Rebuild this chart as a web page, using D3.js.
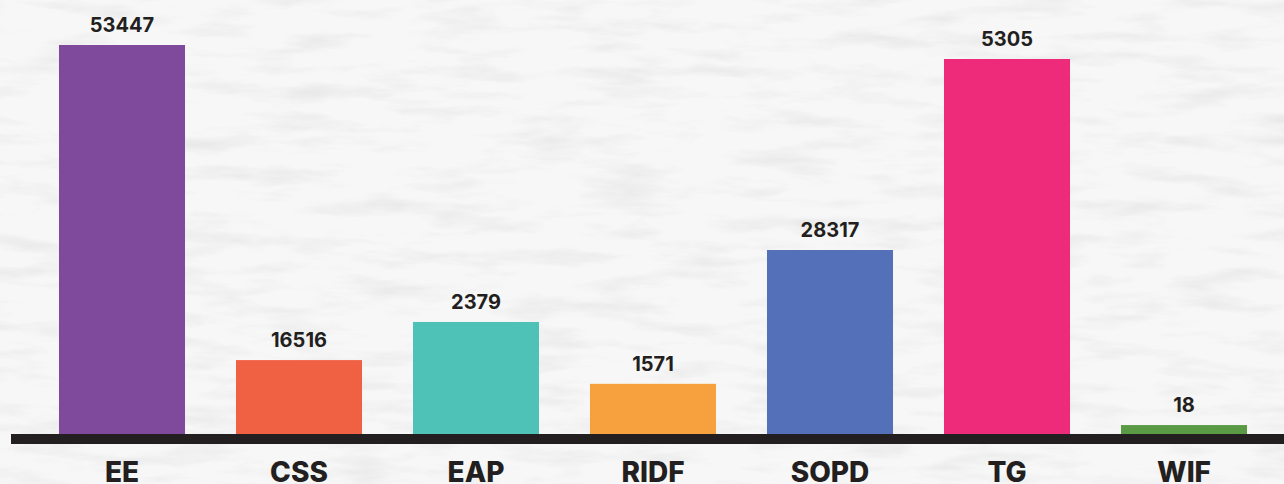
<!DOCTYPE html>
<html>
<head>
<meta charset="utf-8">
<script src="https://cdn.jsdelivr.net/npm/d3@7"></script>
<style>
  html, body { margin: 0; padding: 0; background: #f4f4f4; overflow: hidden; }
  svg { display: block; }
  .val { font-family: Inter, "Open Sans", sans-serif; font-weight: 700; font-size: 20px; fill: #231f20; }
  .cat { font-family: Inter, "Open Sans", sans-serif; font-weight: 800; font-size: 28px; fill: #231f20; }
</style>
</head>
<body>
<svg id="chart"></svg>
<script>
// categories, printed values, and the drawn bar levels (relative, the bars are not to value scale)
var CATEGORIES = ["EE", "CSS", "EAP", "RIDF", "SOPD", "TG", "WIF"];
var VALUES     = [53447, 16516, 2379, 1571, 28317, 5305, 18];
var BAR_LEVEL  = [100, 19.0, 28.8, 12.9, 47.3, 96.4, 2.3];
var COLORS     = ["#7f4a9b", "#f06043", "#4ec2b6", "#f7a13e", "#5470b8", "#ee2b7b", "#5a9a45"];

var width = 1284, height = 484;
var BASE_Y = 434;

var svg = d3.select("#chart").attr("width", width).attr("height", height);

// ---------- paper background ----------
var defs = svg.append("defs");
var f = defs.append("filter").attr("id", "paper").attr("x", 0).attr("y", 0).attr("width", "100%").attr("height", "100%");
f.append("feTurbulence").attr("type", "fractalNoise").attr("baseFrequency", "0.012 0.06").attr("numOctaves", 5).attr("seed", 3).attr("result", "n");
f.append("feColorMatrix").attr("type", "matrix")
  .attr("values", "0 0 0 0 0  0 0 0 0 0  0 0 0 0 0  -1 0 0 0 0.55");

svg.append("rect").attr("width", width).attr("height", height).attr("fill", "#f7f7f7");
svg.append("rect").attr("width", width).attr("height", height).attr("filter", "url(#paper)").attr("opacity", 0.12);

// ---------- scales ----------
var x = d3.scaleBand()
  .domain(CATEGORIES)
  .range([33.5, 1272.5])
  .paddingInner(0.288)
  .paddingOuter(0.144);

var y = d3.scaleLinear()
  .domain([0, 100])
  .range([BASE_Y, 45]);

var data = CATEGORIES.map(function(c, i) {
  return {cat: c, value: VALUES[i], level: BAR_LEVEL[i], color: COLORS[i]};
});

// ---------- bars ----------
var gBars = svg.append("g").attr("id", "bars");
gBars.selectAll("rect").data(data).enter().append("rect")
  .attr("x", function(d) { return x(d.cat); })
  .attr("y", function(d) { return y(d.level); })
  .attr("width", x.bandwidth())
  .attr("height", function(d) { return y(0) - y(d.level); })
  .attr("fill", function(d) { return d.color; });

// value labels
gBars.selectAll("text").data(data).enter().append("text")
  .attr("class", "val")
  .attr("x", function(d) { return x(d.cat) + x.bandwidth() / 2; })
  .attr("y", function(d) { return y(d.level) - 13; })
  .attr("text-anchor", "middle")
  .text(function(d) { return d.value; });

// ---------- baseline ----------
svg.append("rect")
  .attr("x", 11).attr("y", BASE_Y)
  .attr("width", width - 11).attr("height", 10)
  .attr("fill", "#231f20");

// category labels
svg.append("g").attr("id", "cats").selectAll("text").data(data).enter().append("text")
  .attr("class", "cat")
  .attr("x", function(d) { return x(d.cat) + x.bandwidth() / 2; })
  .attr("y", 482)
  .attr("text-anchor", "middle")
  .text(function(d) { return d.cat; });
</script>
</body>
</html>
